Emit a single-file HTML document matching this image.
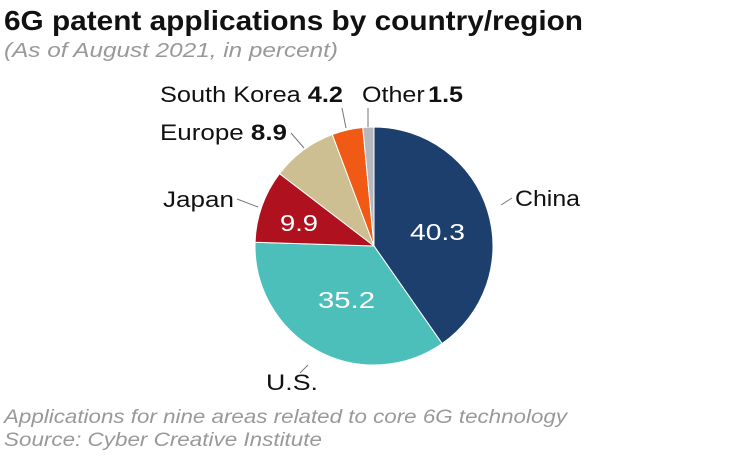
<!DOCTYPE html>
<html><head><style>
body{margin:0;background:#fff;width:750px;height:460px;overflow:hidden;font-family:"Liberation Sans",sans-serif}
</style></head><body>
<svg id="s" width="750" height="460" xmlns="http://www.w3.org/2000/svg" font-family="Liberation Sans, sans-serif">
<text x="4" y="30" font-size="28" font-weight="bold" fill="#111" textLength="579" lengthAdjust="spacingAndGlyphs">6G patent applications by country/region</text>
<text x="4" y="57" font-size="20" font-style="italic" fill="#999" textLength="334" lengthAdjust="spacingAndGlyphs">(As of August 2021, in percent)</text>
<g id="pie"></g>
<g stroke="#777" stroke-width="1">
<line x1="501" y1="205" x2="512" y2="198"/>
<line x1="308" y1="365" x2="300" y2="373"/>
<line x1="237" y1="199" x2="258" y2="207"/>
<line x1="291" y1="133" x2="304" y2="148"/>
<line x1="342" y1="108" x2="346" y2="128"/>
<line x1="368" y1="108" x2="368" y2="127"/>
</g>
<text x="515" y="206" font-size="22" fill="#111" textLength="65" lengthAdjust="spacingAndGlyphs">China</text>
<text x="266" y="390" font-size="22" fill="#111" textLength="52" lengthAdjust="spacingAndGlyphs">U.S.</text>
<text x="163" y="207" font-size="22" fill="#111" textLength="71" lengthAdjust="spacingAndGlyphs">Japan</text>
<text x="160" y="140" font-size="22" fill="#111" textLength="127" lengthAdjust="spacingAndGlyphs">Europe <tspan font-weight="bold">8.9</tspan></text>
<text x="160" y="102" font-size="22" fill="#111" textLength="183" lengthAdjust="spacingAndGlyphs">South Korea <tspan font-weight="bold">4.2</tspan></text>
<text x="362" y="102" font-size="22" fill="#111" textLength="101" lengthAdjust="spacingAndGlyphs">Other<tspan font-weight="bold" dx="3">1.5</tspan></text>
<text x="410" y="240" font-size="23" fill="#fff" textLength="55" lengthAdjust="spacingAndGlyphs">40.3</text>
<text x="318" y="308" font-size="23" fill="#fff" textLength="57" lengthAdjust="spacingAndGlyphs">35.2</text>
<text x="280" y="231" font-size="23" fill="#fff" textLength="38" lengthAdjust="spacingAndGlyphs">9.9</text>
<text x="4" y="423" font-size="19" font-style="italic" fill="#999" textLength="563" lengthAdjust="spacingAndGlyphs">Applications for nine areas related to core 6G technology</text>
<text x="4" y="446" font-size="19" font-style="italic" fill="#999" textLength="318" lengthAdjust="spacingAndGlyphs">Source: Cyber Creative Institute</text>
</svg>
<script>
var d=[[40.3,"#1c3f6e"],[35.2,"#4dbfbb"],[9.9,"#b0111e"],[8.9,"#cdbf92"],[4.2,"#f05a14"],[1.5,"#b5b8bf"]];
var cx=374,cy=246,r=119,a=0,g=document.getElementById("pie"),h="";
function p(t){return [cx+r*Math.sin(t),cy-r*Math.cos(t)];}
d.forEach(function(e){var b=a+e[0]/100*2*Math.PI;var s=p(a),f=p(b);
h+='<path d="M'+cx+' '+cy+'L'+s[0]+' '+s[1]+'A'+r+' '+r+' 0 '+((b-a)>Math.PI?1:0)+' 1 '+f[0]+' '+f[1]+'Z" fill="'+e[1]+'" stroke="#fff" stroke-width="1"/>';a=b;});
g.innerHTML=h;
</script>
</body></html>
